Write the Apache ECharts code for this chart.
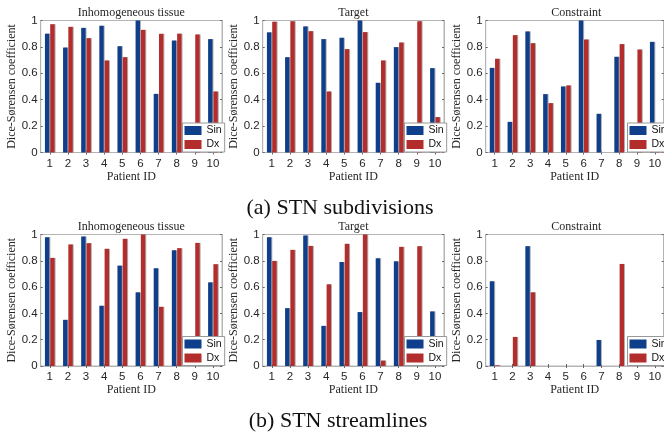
<!DOCTYPE html>
<html>
<head>
<meta charset="utf-8">
<script src="https://cdn.jsdelivr.net/npm/echarts@6/dist/echarts.min.js"></script>
<style>
html,body{margin:0;padding:0;background:#fff;}
#chart{width:664px;height:434px;}
</style>
</head>
<body>
<div id="chart"></div>
<script>
// ---- data ----
const categories = ['1','2','3','4','5','6','7','8','9','10'];
const seriesNames = ['Sin','Dx'];
const panelTitles = ['Inhomogeneous tissue','Target','Constraint','Inhomogeneous tissue','Target','Constraint'];
const captions = ['(a) STN subdivisions','(b) STN streamlines'];
const yTicks = [0, 0.2, 0.4, 0.6, 0.8, 1];

// (a) STN subdivisions
const subInhomSin  = [0.90, 0.795, 0.944, 0.96, 0.805, 1.0, 0.444, 0.848, 0, 0.859];
const subInhomDx   = [0.972, 0.952, 0.866, 0.697, 0.722, 0.929, 0.899, 0.90, 0.894, 0.462];
const subTargetSin = [0.91, 0.722, 0.955, 0.859, 0.869, 1.0, 0.528, 0.798, 0, 0.639];
const subTargetDx  = [0.99, 0.995, 0.919, 0.462, 0.783, 0.912, 0.697, 0.833, 0.995, 0.268];
const subConstrSin = [0.641, 0.232, 0.917, 0.442, 0.50, 1.0, 0.293, 0.725, 0, 0.838];
const subConstrDx  = [0.71, 0.889, 0.828, 0.374, 0.508, 0.856, 0, 0.821, 0.78, 0.15];

// (b) STN streamlines
const strInhomSin  = [0.98, 0.351, 0.985, 0.458, 0.763, 0.56, 0.743, 0.88, 0, 0.636];
const strInhomDx   = [0.822, 0.924, 0.934, 0.891, 0.967, 1.0, 0.45, 0.896, 0.936, 0.774];
const strTargetSin = [0.98, 0.44, 0.992, 0.305, 0.791, 0.41, 0.819, 0.796, 0, 0.415];
const strTargetDx  = [0.799, 0.883, 0.913, 0.621, 0.929, 1.0, 0.041, 0.906, 0.911, 0.10];
const strConstrSin = [0.644, 0, 0.911, 0, 0, 0, 0.198, 0, 0, 0];
const strConstrDx  = [0.005, 0.221, 0.56, 0, 0, 0, 0, 0.776, 0.10, 0];

const panelSin = [subInhomSin, subTargetSin, subConstrSin, strInhomSin, strTargetSin, strConstrSin];
const panelDx  = [subInhomDx, subTargetDx, subConstrDx, strInhomDx, strTargetDx, strConstrDx];

// ---- layout / style ----
const SERIF = 'Liberation Serif';
const SANS = 'Liberation Sans';
const BLUE = '#0f3f8a';
const RED = '#b42d2d';
const FRAME = '#b4b4b4';
const gridLefts = [40.7, 262.7, 485.7];
const gridWidth = 181.3;
const gridTops = [20.5, 234.5];
const gridHeights = [132, 131.5];

const grids = [], xAxes = [], yAxes = [], series = [], legends = [], titles = [];

for (let p = 0; p < 6; p++) {
  const row = Math.floor(p / 3), col = p % 3;
  const left = gridLefts[col], top = gridTops[row], h = gridHeights[row];
  grids.push({left: left, top: top, width: gridWidth, height: h, show: true,
    borderColor: FRAME, borderWidth: 1, backgroundColor: '#fff'});
  // bottom x axis
  xAxes.push({type: 'category', gridIndex: p, data: categories, position: 'bottom',
    axisLine: {show: true, lineStyle: {color: FRAME, width: 1}},
    axisTick: {show: true, inside: true, length: 2, alignWithLabel: true, lineStyle: {color: '#666'}},
    axisLabel: {fontFamily: SANS, fontSize: 11.5, color: '#262626', margin: 5},
    name: 'Patient ID', nameLocation: 'middle', nameGap: 17,
    nameTextStyle: {fontFamily: SERIF, fontSize: 12, color: '#262626'}});
  // top x axis (ticks only)
  xAxes.push({type: 'category', gridIndex: p, data: categories, position: 'top',
    axisLine: {show: true, lineStyle: {color: FRAME, width: 1}},
    axisTick: {show: true, inside: true, length: 2, alignWithLabel: true, lineStyle: {color: '#666'}},
    axisLabel: {show: false}});
  // left y axis
  yAxes.push({type: 'value', gridIndex: p, min: 0, max: 1, interval: 0.2, position: 'left',
    splitLine: {show: false},
    axisLine: {show: true, lineStyle: {color: FRAME, width: 1}},
    axisTick: {show: true, inside: true, length: 2, lineStyle: {color: '#666'}},
    axisLabel: {fontFamily: SANS, fontSize: 11.5, color: '#262626', margin: 3,
      formatter: v => (v === 0 ? '0' : v === 1 ? '1' : v.toFixed(1))},
    name: 'Dice-Sørensen coefficient', nameLocation: 'middle', nameGap: 19.5,
    nameTextStyle: {fontFamily: SERIF, fontSize: 12, color: '#262626'}});
  // right y axis (ticks only)
  yAxes.push({type: 'value', gridIndex: p, min: 0, max: 1, interval: 0.2, position: 'right',
    splitLine: {show: false},
    axisLine: {show: true, lineStyle: {color: FRAME, width: 1}},
    axisTick: {show: true, inside: true, length: 2, lineStyle: {color: '#666'}},
    axisLabel: {show: false}});

  const common = {type: 'bar', xAxisIndex: 2 * p, yAxisIndex: 2 * p, barWidth: 4.4, barGap: '20%',
    animation: false, emphasis: {disabled: true}};
  series.push(Object.assign({}, common, {name: seriesNames[0], data: panelSin[p],
    itemStyle: {color: BLUE, shadowColor: 'rgba(150,150,150,0.75)', shadowOffsetX: 1, shadowBlur: 0}}));
  series.push(Object.assign({}, common, {name: seriesNames[1], data: panelDx[p],
    itemStyle: {color: RED, shadowColor: 'rgba(150,150,150,0.75)', shadowOffsetX: 1, shadowBlur: 0}}));

  legends.push({data: seriesNames, orient: 'vertical', selectedMode: false,
    left: left + gridWidth - 39.5, top: top + h - 29.5,
    itemWidth: 17, itemHeight: 9, itemGap: 3, padding: [2, 3, 2, 2],
    icon: 'rect', backgroundColor: '#fff', borderColor: '#999', borderWidth: 1,
    textStyle: {fontFamily: SANS, fontSize: 10.5, color: '#111'}, z: 10});

  titles.push({text: panelTitles[p], left: left + gridWidth / 2, top: top - 14, textAlign: 'center',
    padding: 0, textStyle: {fontFamily: SERIF, fontSize: 12, fontWeight: 'normal', color: '#262626'}});
}

titles.push({text: captions[0], left: 340, top: 197, textAlign: 'center', padding: 0,
  textStyle: {fontFamily: SERIF, fontSize: 22, fontWeight: 'normal', color: '#111'}});
titles.push({text: captions[1], left: 338, top: 410, textAlign: 'center', padding: 0,
  textStyle: {fontFamily: SERIF, fontSize: 22, fontWeight: 'normal', color: '#111'}});

const chart = echarts.init(document.getElementById('chart'), null, {renderer: 'canvas'});
chart.setOption({
  animation: false,
  backgroundColor: '#fff',
  title: titles,
  legend: legends,
  grid: grids,
  xAxis: xAxes,
  yAxis: yAxes,
  series: series
});
</script>
</body>
</html>
